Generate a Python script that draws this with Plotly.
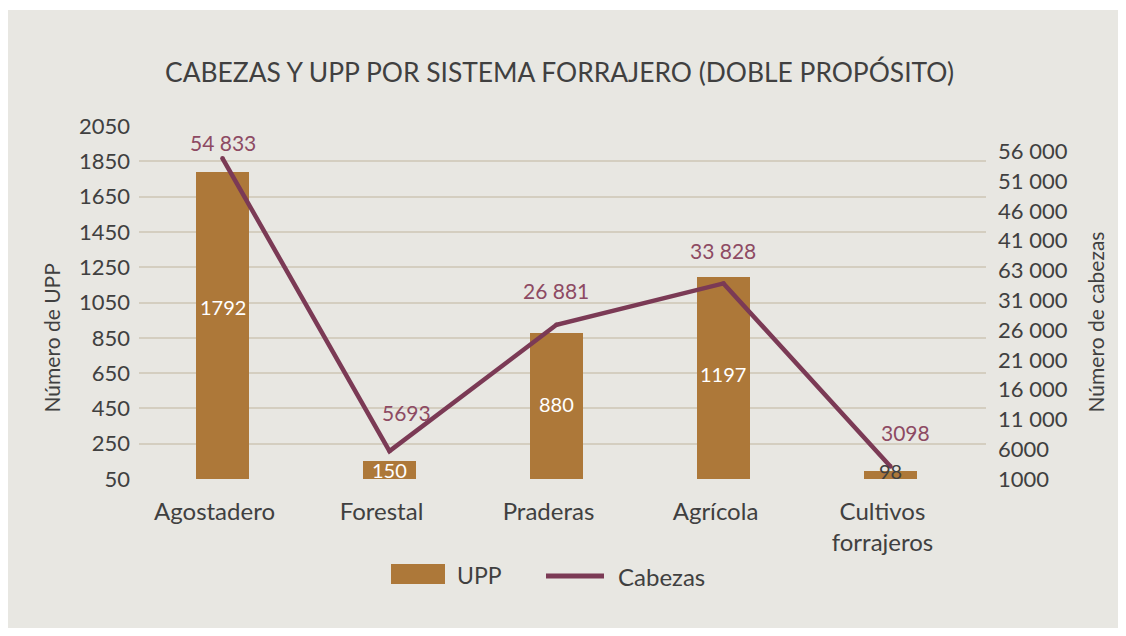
import plotly.graph_objects as go

# Data
categorias = ["Agostadero", "Forestal", "Praderas", "Agrícola", "Cultivos<br>forrajeros"]
upp = [1792, 150, 880, 1197, 98]
cabezas = [54833, 5693, 26881, 33828, 3098]
etiquetas_cabezas = ["54 833", "5693", "26 881", "33 828", "3098"]

ticks_upp = [50, 250, 450, 650, 850, 1050, 1250, 1450, 1650, 1850, 2050]
ticks_cabezas = [1000, 6000, 11000, 16000, 21000, 26000, 31000, 36000, 41000, 46000, 51000, 56000]
ticktext_cabezas = ["1000", "6000", "11 000", "16 000", "21 000", "26 000", "31 000",
                    "63 000", "41 000", "46 000", "51 000", "56 000"]

# Styling
W, H = 1126, 636
ML, MR, MT, MB = 139, 140, 126, 157
PW, PH = W - ML - MR, H - MT - MB
FONT = "Lato"
TXT = "#404040"
BAR = "#ad7839"
LINE = "#7b3a55"
LBL = "#8d4a63"
BG = "#e8e7e2"
GRID = "#d4cec0"
FS = 22


def px_x(px):
    return (px - ML) / PW


def px_y(py):
    return (H - MB - py) / PH


xs = list(range(len(categorias)))

fig = go.Figure()
fig.add_trace(go.Bar(
    x=xs, y=upp, name="UPP", marker=dict(color=BAR, line=dict(width=0)),
    width=0.323, yaxis="y", showlegend=False, hoverinfo="skip",
))
# round dots at the vertices give the line rounded ends
fig.add_trace(go.Scatter(
    x=xs, y=cabezas, name="Cabezas", mode="lines+markers",
    line=dict(color=LINE, width=4.5),
    marker=dict(color=LINE, size=4.5, line=dict(width=0)),
    yaxis="y2", showlegend=False, cliponaxis=False, hoverinfo="skip",
))

annotations = []

# bar value labels
bar_colors = ["white", "white", "white", "white", TXT]
bar_yshift = [18, 0, 2, 4, 4]
for i, v in enumerate(upp):
    annotations.append(dict(
        x=xs[i], y=(50 + v) / 2, xref="x", yref="y", text=str(v), showarrow=False,
        font=dict(family=FONT, size=20, color=bar_colors[i]), yshift=bar_yshift[i],
    ))

# line value labels
lbl_xshift = [0, 17, 0, 0, 15]
lbl_yshift = [16, 39, 34, 33, 34]
for i, v in enumerate(cabezas):
    annotations.append(dict(
        x=xs[i], y=v, xref="x", yref="y2", text=etiquetas_cabezas[i], showarrow=False,
        font=dict(family=FONT, size=21, color=LBL),
        xshift=lbl_xshift[i], yshift=lbl_yshift[i],
    ))

# title
annotations.append(dict(
    x=px_x(559), y=px_y(72), xref="paper", yref="paper",
    text="CABEZAS Y UPP POR SISTEMA FORRAJERO (DOBLE PROPÓSITO)", showarrow=False,
    font=dict(family=FONT, size=26.4, color=TXT), xanchor="center", yanchor="middle",
))

# axis titles
annotations.append(dict(
    x=px_x(51), y=px_y(415), xref="paper", yref="paper", text="Número de UPP",
    textangle=-90, showarrow=False, xanchor="center", yanchor="bottom",
    font=dict(family=FONT, size=21, color=TXT),
))
annotations.append(dict(
    x=px_x(1095), y=px_y(415), xref="paper", yref="paper", text="Número de cabezas",
    textangle=-90, showarrow=False, xanchor="center", yanchor="bottom",
    font=dict(family=FONT, size=21, color=TXT),
))

# legend texts
annotations.append(dict(
    x=px_x(455), y=px_y(575), xref="paper", yref="paper", text="UPP", showarrow=False,
    xanchor="left", yanchor="middle", font=dict(family=FONT, size=23, color=TXT),
))
annotations.append(dict(
    x=px_x(616), y=px_y(576), xref="paper", yref="paper", text="Cabezas", showarrow=False,
    xanchor="left", yanchor="middle", font=dict(family=FONT, size=24, color=TXT),
))

shapes = [
    # panel background
    dict(type="rect", xref="paper", yref="paper", layer="below",
         x0=px_x(8), x1=px_x(W - 8), y0=px_y(10), y1=px_y(H - 8),
         fillcolor=BG, line=dict(width=0)),
    # legend swatch (bars)
    dict(type="rect", xref="paper", yref="paper",
         x0=px_x(391), x1=px_x(445), y0=px_y(564), y1=px_y(584),
         fillcolor=BAR, line=dict(width=0)),
    # legend swatch (line)
    dict(type="line", xref="paper", yref="paper",
         x0=px_x(546), x1=px_x(604), y0=px_y(576), y1=px_y(576),
         line=dict(color=LINE, width=5)),
]

fig.update_layout(
    width=W, height=H,
    margin=dict(l=ML, r=MR, t=MT, b=MB, pad=0),
    paper_bgcolor="white", plot_bgcolor="rgba(0,0,0,0)",
    font=dict(family=FONT, size=FS, color=TXT),
    showlegend=False,
    xaxis=dict(
        range=[-0.5, 4.572], tickmode="array", tickvals=xs, ticktext=categorias,
        showgrid=False, zeroline=False, showline=False, ticks="",
        tickfont=dict(family=FONT, size=24, color=TXT), ticklabelshift=-8,
        ticklabelstandoff=16, fixedrange=True,
    ),
    yaxis=dict(
        range=[50, 2050], tickmode="array", tickvals=ticks_upp,
        showgrid=True, gridcolor=GRID, gridwidth=2, zeroline=False, showline=False,
        ticks="", ticklabelstandoff=8, tickfont=dict(family=FONT, size=FS, color=TXT),
    ),
    yaxis2=dict(
        range=[1000, 60250], overlaying="y", side="right", tickmode="array",
        tickvals=ticks_cabezas, ticktext=ticktext_cabezas,
        showgrid=False, zeroline=False, showline=False, ticks="",
        ticklabelstandoff=11, tickfont=dict(family=FONT, size=FS, color=TXT),
    ),
    annotations=annotations,
    shapes=shapes,
    bargap=0,
)

fig.write_html("out.html")
